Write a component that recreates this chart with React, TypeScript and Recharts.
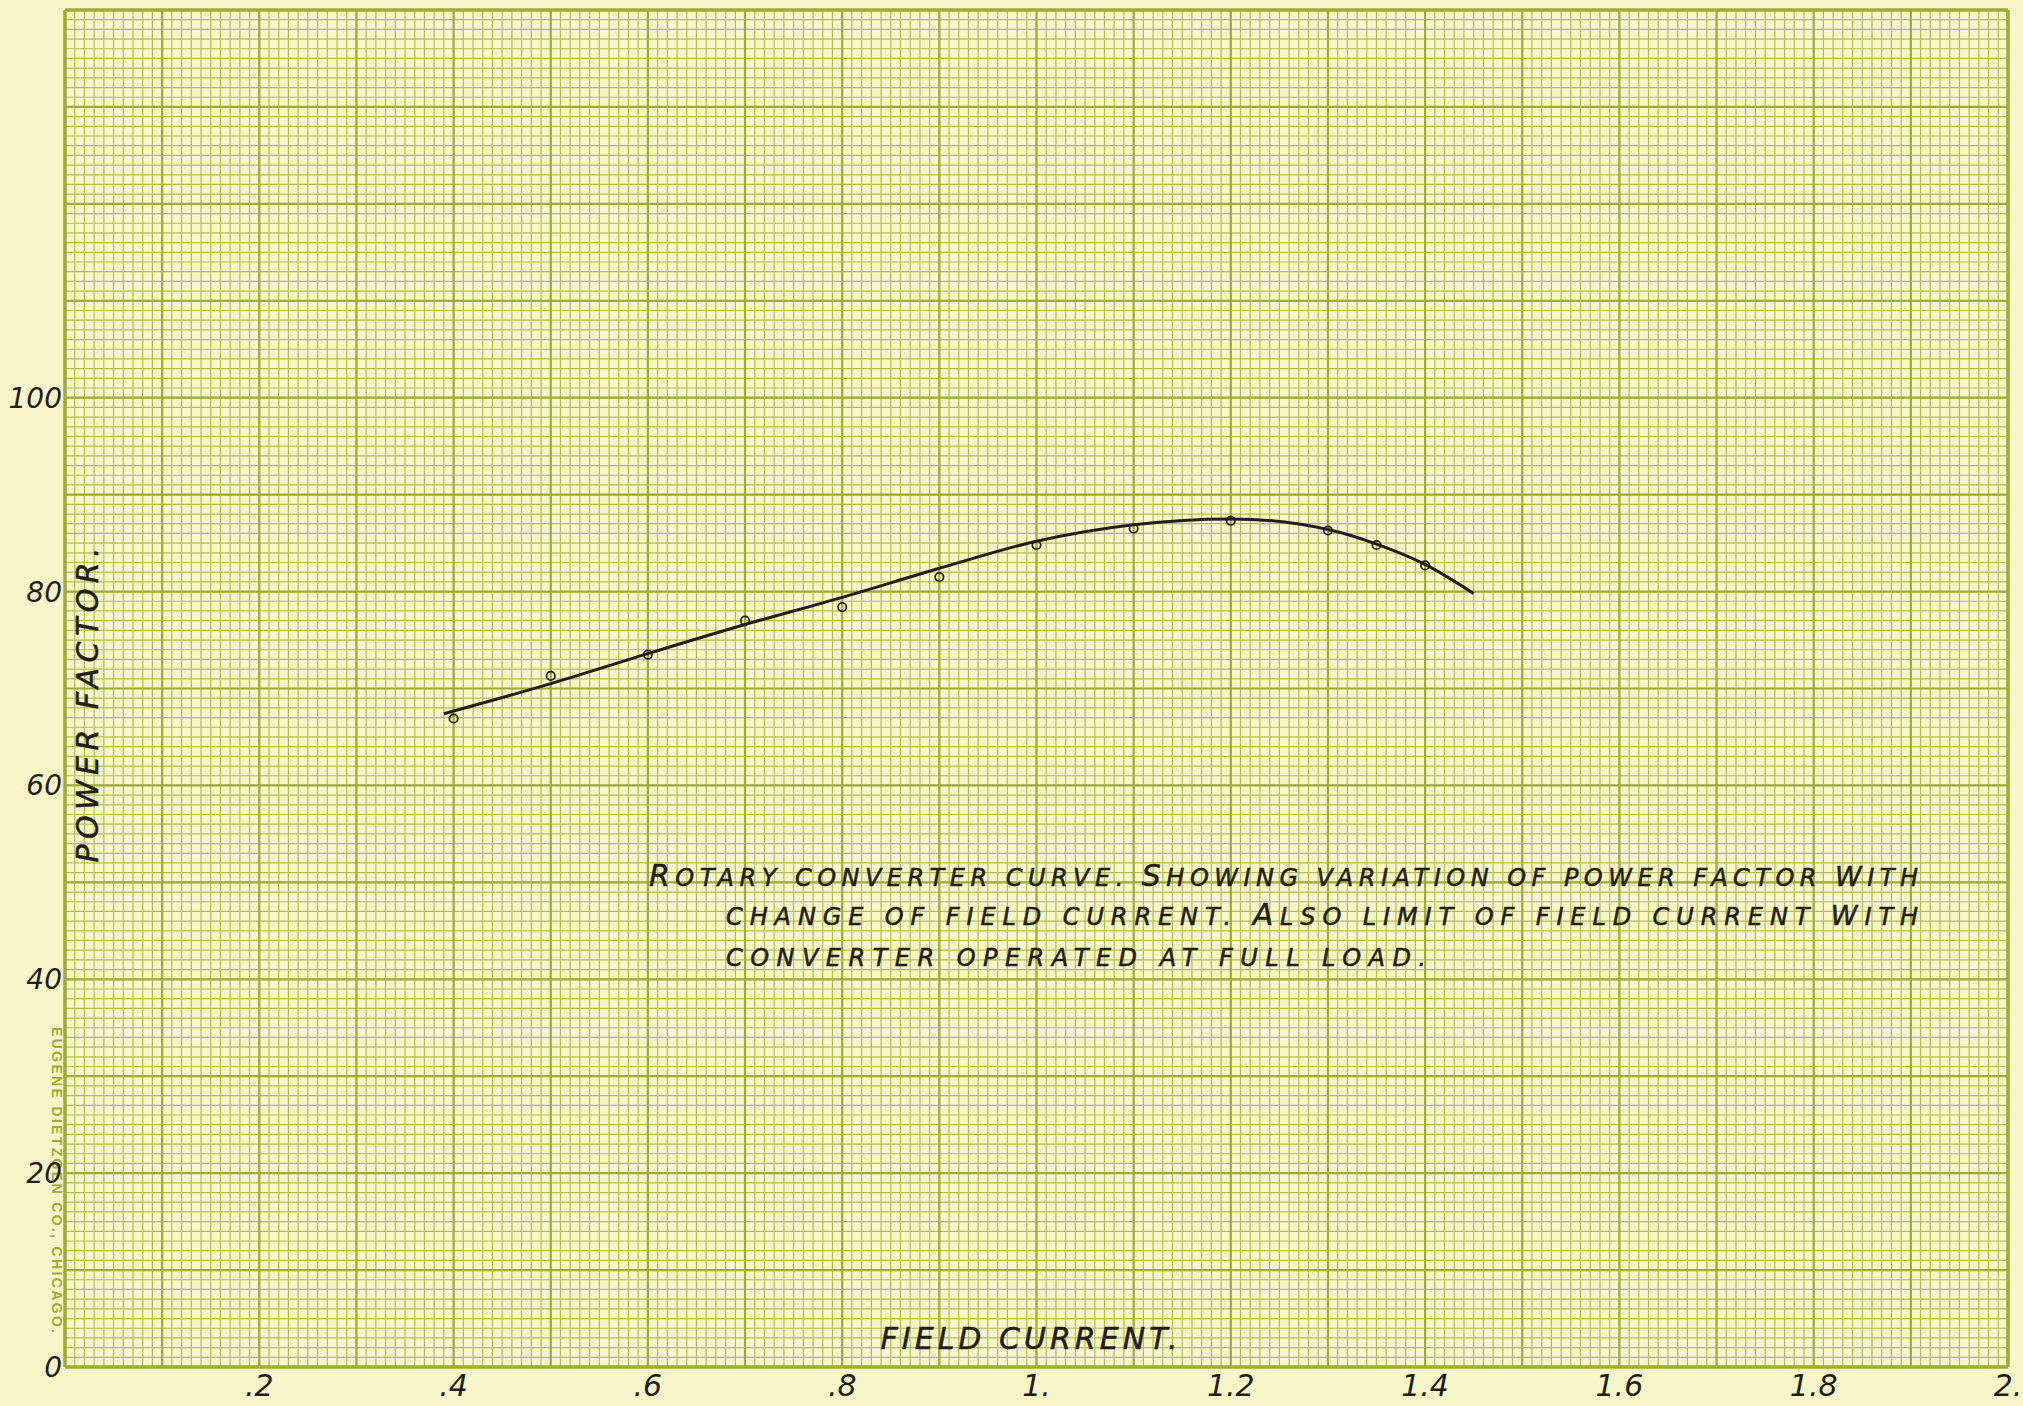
import {
  ComposedChart,
  Line,
  Scatter,
  XAxis,
  YAxis,
  CartesianGrid,
} from 'recharts';

// observed points (open circles)
const fieldCurrent = [0.4, 0.5, 0.6, 0.7, 0.8, 0.9, 1.0, 1.1, 1.2, 1.3, 1.35, 1.4];
const powerFactor = [66.9, 71.3, 73.5, 77.0, 78.4, 81.5, 84.8, 86.5, 87.3, 86.3, 84.8, 82.7];

// hand drawn fitted curve
const curveCurrent = [0.39, 0.5, 0.6, 0.7, 0.8, 0.9, 1.0, 1.1, 1.2, 1.3, 1.35, 1.4, 1.45];
const curveFactor = [67.4, 70.5, 73.6, 76.6, 79.4, 82.4, 85.2, 86.9, 87.5, 86.4, 84.9, 82.8, 79.8];

const xTicks = [0.2, 0.4, 0.6, 0.8, 1.0, 1.2, 1.4, 1.6, 1.8, 2.0];
const xTickLabels = ['.2', '.4', '.6', '.8', '1.', '1.2', '1.4', '1.6', '1.8', '2.'];
const yTicks = [0, 20, 40, 60, 80, 100];

const points = fieldCurrent.map((x, i) => ({ x, y: powerFactor[i] }));
const curve = curveCurrent.map((x, i) => ({ x, y: curveFactor[i] }));

// graph paper rulings (fractions of the plot box)
const X_MAX = 2;
const Y_MAX = 140;
const minorX = Array.from({ length: 201 }, (_, i) => i / 100);
const majorX = Array.from({ length: 21 }, (_, i) => i / 10);
const minorY = Array.from({ length: 141 }, (_, i) => i);
const majorY = Array.from({ length: 15 }, (_, i) => i * 10);

const PAPER = '#f8f5c9';
const MINOR = '#b2bf50';
const MAJOR = '#9cad34';
const INK = '#231d17';
const HAND = '"DejaVu Sans", sans-serif';

const vGen = (vals: number[]) => ({ offset }: any) =>
  vals.map((v) => offset.left + (v / X_MAX) * offset.width);
const hGen = (vals: number[]) => ({ offset }: any) =>
  vals.map((v) => offset.top + offset.height - (v / Y_MAX) * offset.height);

const OpenCircle = (props: any) => {
  const { cx, cy } = props;
  if (cx == null || cy == null) return null;
  return <circle cx={cx} cy={cy} r={4.2} fill="none" stroke={INK} strokeWidth={1.7} />;
};

export default function App() {
  return (
    <div style={{ position: 'absolute', left: 0, top: 0, width: 2023, height: 1406, background: PAPER }}>
      <ComposedChart
        width={2023}
        height={1406}
        margin={{ top: 10, right: 15, left: 0, bottom: 0 }}
      >
        <CartesianGrid
          stroke={MINOR}
          strokeWidth={1.2}
          verticalCoordinatesGenerator={vGen(minorX)}
          horizontalCoordinatesGenerator={hGen(minorY)}
        />
        <CartesianGrid
          stroke={MAJOR}
          strokeWidth={2.2}
          verticalCoordinatesGenerator={vGen(majorX)}
          horizontalCoordinatesGenerator={hGen(majorY)}
        />
        <CartesianGrid
          stroke={MAJOR}
          strokeWidth={3.5}
          verticalCoordinatesGenerator={vGen([0, X_MAX])}
          horizontalCoordinatesGenerator={hGen([0, Y_MAX])}
        />

        <XAxis
          type="number"
          dataKey="x"
          domain={[0, X_MAX]}
          ticks={xTicks}
          interval={0}
          height={39}
          axisLine={false}
          tickLine={false}
          tickSize={0}
          tickMargin={8}
          tickFormatter={(v: number) => xTickLabels[xTicks.indexOf(v)] ?? ''}
          tick={{ fill: INK, fontSize: 30, fontStyle: 'italic', fontFamily: HAND }}
        />
        <YAxis
          type="number"
          domain={[0, Y_MAX]}
          ticks={yTicks}
          interval={0}
          width={65}
          axisLine={false}
          tickLine={false}
          tickSize={0}
          tickMargin={3}
          tick={{ fill: INK, fontSize: 28, fontStyle: 'italic', fontFamily: HAND }}
        />

        <Line
          data={curve}
          dataKey="y"
          type="monotone"
          stroke={INK}
          strokeWidth={3}
          dot={false}
          activeDot={false}
          isAnimationActive={false}
        />
        <Scatter data={points} dataKey="y" shape={<OpenCircle />} isAnimationActive={false} />

        {/* axis titles, note, printer's imprint */}
        <text
          x={87}
          y={705}
          transform="rotate(-90 87 705)"
          textAnchor="middle"
          dominantBaseline="central"
          fontFamily={HAND}
          fontStyle="italic"
          fontSize={30}
          fill={INK}
          stroke={INK}
          strokeWidth={0.5}
          textLength={315}
          lengthAdjust="spacing"
        >
          POWER FACTOR.
        </text>
        <text
          x={1029}
          y={1338}
          textAnchor="middle"
          dominantBaseline="central"
          fontFamily={HAND}
          fontStyle="italic"
          fontSize={30}
          fill={INK}
          stroke={INK}
          strokeWidth={0.5}
          textLength={297}
          lengthAdjust="spacing"
        >
          FIELD CURRENT.
        </text>
        <text
          x={57}
          y={1180}
          transform="rotate(90 57 1180)"
          textAnchor="middle"
          dominantBaseline="central"
          fontFamily="'Liberation Sans', sans-serif"
          fontWeight="bold"
          fontSize={14}
          fill={MAJOR}
          textLength={306}
          lengthAdjust="spacing"
        >
          EUGENE DIETZGEN CO., CHICAGO.
        </text>
        <g fontFamily={HAND} fontStyle="italic" fill={INK} stroke={INK} strokeWidth={0.5} fontSize={24}>
          <text x={649} y={886} textLength={1269} lengthAdjust="spacing">
            <tspan fontSize={30}>R</tspan>OTARY CONVERTER CURVE. <tspan fontSize={30}>S</tspan>HOWING VARIATION  OF POWER FACTOR <tspan fontSize={27}>W</tspan>ITH
          </text>
          <text x={726} y={925} textLength={1192} lengthAdjust="spacing">
            CHANGE OF FIELD CURRENT. <tspan fontSize={30}>A</tspan>LSO LIMIT OF FIELD CURRENT <tspan fontSize={27}>W</tspan>ITH
          </text>
          <text x={726} y={966} textLength={700} lengthAdjust="spacing">
            CONVERTER OPERATED AT FULL LOAD.
          </text>
        </g>
      </ComposedChart>
    </div>
  );
}
